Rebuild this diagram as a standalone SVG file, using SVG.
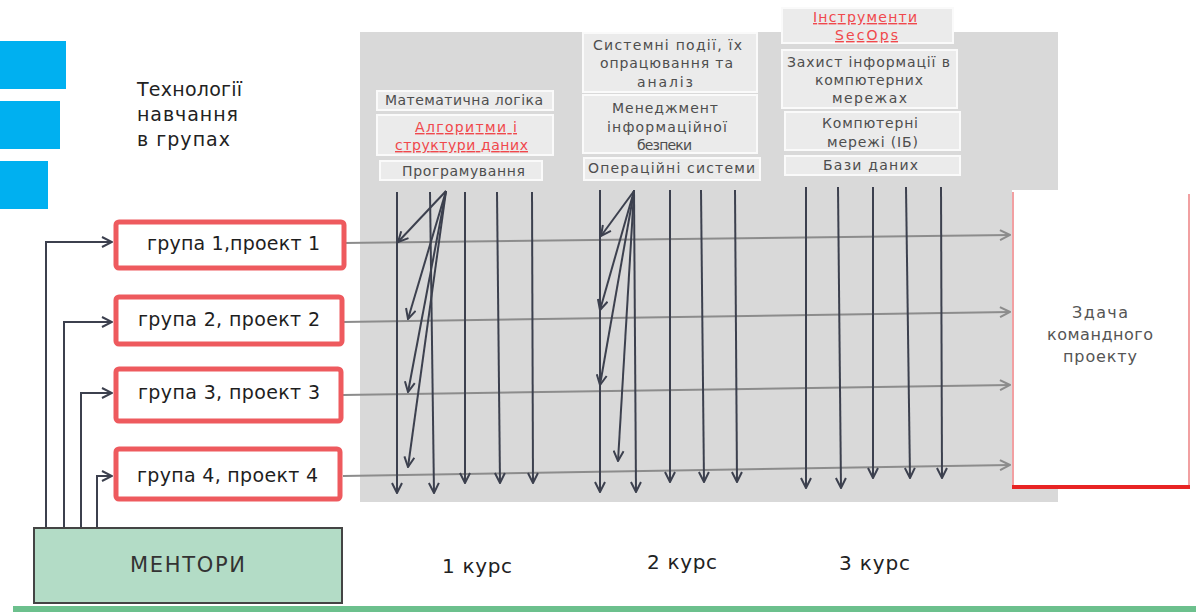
<svg xmlns="http://www.w3.org/2000/svg" width="1196" height="612" viewBox="0 0 1196 612">
<style>
text{font-family:"DejaVu Sans","Liberation Sans",Arial,sans-serif;}
.grp rect{fill:#fff;stroke:#ee5a5e;stroke-width:5;}
.grp text{font-size:19px;fill:#1e1e1e;}
.sub rect{fill:#ebebeb;stroke:#fafafa;stroke-width:2;}
.sub text{font-size:14px;fill:#4e4e4e;}
.sub text.red{fill:#f0484c;text-decoration:underline;}
.dk{stroke:#3c404e;stroke-width:2;fill:none;}
.gr{stroke:#8c8c8c;stroke-width:2;fill:none;}
.course{font-size:20px;fill:#222;}
.ttl{font-size:19px;fill:#222;}
.sb{font-size:16px;fill:#555;}
</style>
<defs>
<marker id="ad" viewBox="0 0 12 12" refX="11" refY="6" markerWidth="12" markerHeight="12" markerUnits="userSpaceOnUse" orient="auto"><path d="M1,1 L11,6 L1,11" fill="none" stroke="#3c404e" stroke-width="2"/></marker>
<marker id="ag" viewBox="0 0 12 12" refX="11" refY="6" markerWidth="12" markerHeight="12" markerUnits="userSpaceOnUse" orient="auto"><path d="M1,1 L11,6 L1,11" fill="none" stroke="#8c8c8c" stroke-width="2"/></marker>
</defs>
<rect width="1196" height="612" fill="#fff"/>
<g id="blue">
<rect x="0" y="41" width="66" height="48" fill="#00b0f0"/>
<rect x="0" y="101" width="60" height="48" fill="#00b0f0"/>
<rect x="0" y="161" width="48" height="48" fill="#00b0f0"/>
</g>
<g id="title">
<text class="ttl" x="137" y="96" textLength="105">Технології</text>
<text class="ttl" x="137" y="121" textLength="101">навчання</text>
<text class="ttl" x="137" y="146" textLength="93">в групах</text>
</g>
<rect x="360" y="32" width="698" height="470" fill="#d9d9d9"/>
<g id="submit">
<rect x="1012" y="190" width="178" height="298" fill="#fff"/>
<line x1="1013" y1="192" x2="1013" y2="488" stroke="#f2a0a2" stroke-width="2"/>
<line x1="1189" y1="194" x2="1189" y2="488" stroke="#f2a0a2" stroke-width="2"/>
<line x1="1012" y1="487" x2="1190" y2="487" stroke="#e82424" stroke-width="4"/>
<text class="sb" x="1072" y="318" textLength="56">Здача</text>
<text class="sb" x="1047" y="340" textLength="106">командного</text>
<text class="sb" x="1063" y="362" textLength="74">проекту</text>
</g>
<g id="c1-math" class="sub"><rect x="377" y="91" width="176" height="19"/><text x="385" y="105" textLength="158">Математична логіка</text></g>
<g id="c1-alg" class="sub"><rect x="377" y="115" width="176" height="40"/><text class="red" x="415" y="132" textLength="102">Алгоритми і</text><text class="red" x="395" y="150" textLength="133">структури даних</text></g>
<g id="c1-prog" class="sub"><rect x="380" y="161" width="162" height="19"/><text x="402" y="176" textLength="123">Програмування</text></g>
<g id="c2-sys" class="sub"><rect x="583" y="33" width="174" height="59"/><text x="593" y="50" textLength="149">Системні події, їх</text><text x="600" y="68" textLength="133">опрацювання та</text><text x="637" y="87" textLength="56">аналіз</text></g>
<g id="c2-man" class="sub"><rect x="583" y="95" width="174" height="58"/><text x="612" y="113" textLength="106">Менеджмент</text><text x="607" y="132" textLength="120">інформаційної</text><text x="637" y="150" textLength="55">безпеки</text></g>
<g id="c2-os" class="sub"><rect x="584" y="158" width="176" height="22"/><text x="588" y="173" textLength="167">Операційні системи</text></g>
<g id="c3-secops" class="sub"><rect x="782" y="8" width="171" height="35"/><text class="red" x="813" y="22" textLength="104">Інструменти</text><text class="red" x="835" y="40" textLength="63">SecOps</text></g>
<g id="c3-prot" class="sub"><rect x="782" y="50" width="175" height="58"/><text x="787" y="67" textLength="163">Захист інформації в</text><text x="815" y="85" textLength="108">компютерних</text><text x="832" y="103" textLength="75">мережах</text></g>
<g id="c3-net" class="sub"><rect x="785" y="112" width="175" height="38"/><text x="822" y="128" textLength="96">Компютерні</text><text x="827" y="147" textLength="91">мережі (ІБ)</text></g>
<g id="c3-db" class="sub"><rect x="785" y="156" width="175" height="19"/><text x="823" y="170" textLength="95">Бази даних</text></g>
<g id="connectors">
<g class="gr">
<line x1="343" y1="243" x2="1010" y2="235" marker-end="url(#ag)"/>
<line x1="343" y1="322" x2="1010" y2="312" marker-end="url(#ag)"/>
<line x1="343" y1="395" x2="1010" y2="385" marker-end="url(#ag)"/>
<line x1="343" y1="476" x2="1010" y2="465" marker-end="url(#ag)"/>
</g>
<g class="dk">
<line x1="397" y1="192" x2="397" y2="493" marker-end="url(#ad)"/>
<line x1="430" y1="192" x2="434" y2="493" marker-end="url(#ad)"/>
<line x1="465" y1="192" x2="465" y2="483" marker-end="url(#ad)"/>
<line x1="497" y1="192" x2="500" y2="483" marker-end="url(#ad)"/>
<line x1="532" y1="192" x2="533" y2="483" marker-end="url(#ad)"/>
<line x1="446" y1="191" x2="398" y2="242" marker-end="url(#ad)"/>
<line x1="446" y1="191" x2="408" y2="319" marker-end="url(#ad)"/>
<line x1="446" y1="191" x2="408" y2="392" marker-end="url(#ad)"/>
<line x1="446" y1="191" x2="408" y2="467" marker-end="url(#ad)"/>
<line x1="600" y1="190" x2="600" y2="492" marker-end="url(#ad)"/>
<line x1="634" y1="190" x2="636" y2="492" marker-end="url(#ad)"/>
<line x1="670" y1="190" x2="670" y2="482" marker-end="url(#ad)"/>
<line x1="701" y1="190" x2="704" y2="482" marker-end="url(#ad)"/>
<line x1="735" y1="190" x2="737" y2="482" marker-end="url(#ad)"/>
<line x1="634" y1="191" x2="601" y2="236" marker-end="url(#ad)"/>
<line x1="634" y1="191" x2="600" y2="310" marker-end="url(#ad)"/>
<line x1="634" y1="191" x2="600" y2="385" marker-end="url(#ad)"/>
<line x1="634" y1="191" x2="618" y2="461" marker-end="url(#ad)"/>
<line x1="806" y1="187" x2="806" y2="488" marker-end="url(#ad)"/>
<line x1="838" y1="187" x2="841" y2="488" marker-end="url(#ad)"/>
<line x1="873" y1="187" x2="873" y2="478" marker-end="url(#ad)"/>
<line x1="906" y1="187" x2="910" y2="478" marker-end="url(#ad)"/>
<line x1="941" y1="187" x2="942" y2="478" marker-end="url(#ad)"/>
<polyline points="46,527 46,242 112,242" marker-end="url(#ad)"/>
<polyline points="64,527 64,322 112,322" marker-end="url(#ad)"/>
<polyline points="81,527 81,393 112,393" marker-end="url(#ad)"/>
<polyline points="97,527 97,476 112,476" marker-end="url(#ad)"/>
</g>
</g>
<g id="g1" class="grp"><rect x="116" y="222" width="228" height="46" rx="3"/><text x="147" y="250" textLength="173">група 1,проект 1</text></g>
<g id="g2" class="grp"><rect x="116" y="297" width="226" height="47" rx="3"/><text x="138" y="326" textLength="182">група 2, проект 2</text></g>
<g id="g3" class="grp"><rect x="116" y="369" width="225" height="52" rx="3"/><text x="138" y="399" textLength="182">група 3, проект 3</text></g>
<g id="g4" class="grp"><rect x="116" y="449" width="224" height="50" rx="3"/><text x="137" y="482" textLength="181">група 4, проект 4</text></g>
<g id="mentors">
<rect x="34" y="528" width="308" height="75" fill="#b3dcc6" stroke="#444" stroke-width="2"/>
<text x="130" y="572" font-size="21" fill="#333" textLength="115">МЕНТОРИ</text>
</g>
<g id="courses">
<text class="course" x="442" y="573" textLength="70">1 курс</text>
<text class="course" x="647" y="569" textLength="70">2 курс</text>
<text class="course" x="839" y="570" textLength="71">3 курс</text>
</g>
<rect x="13" y="606" width="1183" height="6" fill="#6cc08d"/>
</svg>
